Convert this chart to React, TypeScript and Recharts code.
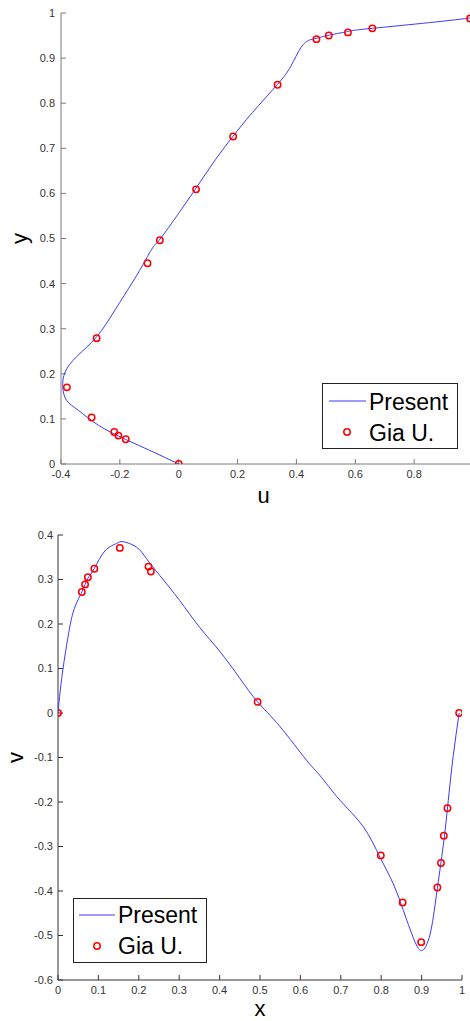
import React from 'react';
import { ScatterChart, Scatter, XAxis, YAxis, Legend } from 'recharts';

// tick labels
const uTicks = [-0.4, -0.2, 0, 0.2, 0.4, 0.6, 0.8, 1];
const yTicks = [0, 0.1, 0.2, 0.3, 0.4, 0.5, 0.6, 0.7, 0.8, 0.9, 1];
const xTicks = [0, 0.1, 0.2, 0.3, 0.4, 0.5, 0.6, 0.7, 0.8, 0.9, 1];
const vTicks = [-0.6, -0.5, -0.4, -0.3, -0.2, -0.1, 0, 0.1, 0.2, 0.3, 0.4];

// present solution: u along the vertical centreline
const presentUy = [
	0, 0.028, 0.055, 0.086, 0.119, 0.141, 0.171, 0.204, 0.238, 0.282, 0.342,
	0.401, 0.438, 0.479, 0.499, 0.556, 0.61, 0.675, 0.727, 0.779, 0.842, 0.882,
	0.923, 0.94, 0.944, 0.951, 0.959, 0.966, 0.989, 1,
];
const presentU = [
	0, -0.091, -0.182, -0.273, -0.341, -0.381, -0.394, -0.386, -0.347, -0.279,
	-0.216, -0.159, -0.125, -0.089, -0.063, 0, 0.057, 0.125, 0.185, 0.25, 0.336,
	0.381, 0.415, 0.444, 0.469, 0.512, 0.575, 0.658, 0.99, 1,
];

// Gia U. reference points for u
const ghiaUy = [
	0, 0.055, 0.063, 0.071, 0.103, 0.17, 0.279, 0.445, 0.496, 0.609, 0.726,
	0.841, 0.942, 0.95, 0.957, 0.966, 0.988,
];
const ghiaU = [
	0, -0.18, -0.205, -0.219, -0.296, -0.38, -0.279, -0.106, -0.064, 0.059,
	0.185, 0.336, 0.468, 0.51, 0.575, 0.658, 0.99,
];

// present solution: v along the horizontal centreline
const presentVx = [
	0, 0.004, 0.012, 0.025, 0.037, 0.05, 0.059, 0.067, 0.074, 0.09, 0.116, 0.145,
	0.161, 0.194, 0.219, 0.252, 0.301, 0.351, 0.4, 0.45, 0.494, 0.549, 0.615,
	0.648, 0.698, 0.756, 0.797, 0.83, 0.855, 0.879, 0.9, 0.921, 0.937, 0.954,
	0.966, 0.978, 0.993,
];
const presentV = [
	0, 0.037, 0.097, 0.172, 0.225, 0.255, 0.272, 0.289, 0.303, 0.325, 0.364,
	0.381, 0.385, 0.373, 0.347, 0.309, 0.253, 0.192, 0.139, 0.078, 0.025, -0.03,
	-0.106, -0.14, -0.196, -0.256, -0.324, -0.384, -0.444, -0.504, -0.534,
	-0.497, -0.407, -0.295, -0.197, -0.098, 0,
];

// Gia U. reference points for v
const ghiaVx = [
	0, 0.059, 0.067, 0.074, 0.09, 0.153, 0.224, 0.23, 0.494, 0.799, 0.853, 0.899,
	0.939, 0.948, 0.955, 0.964, 0.993,
];
const ghiaV = [
	0, 0.272, 0.289, 0.305, 0.324, 0.371, 0.329, 0.318, 0.025, -0.32, -0.426,
	-0.515, -0.392, -0.337, -0.276, -0.214, 0,
];

const zip = (xs: number[], ys: number[]) => xs.map((x, i) => ({ x, y: ys[i] }));

const FONT = '"Liberation Sans", Arial, Helvetica, sans-serif';
const BLUE = '#3a3aff';
const RED = '#ff0000';
const tickStyle = { fontSize: 11, fill: '#333', fontFamily: FONT };
const fmt = (v: number) => String(v);

const Ring = (props: any) => (
	<circle cx={props.cx} cy={props.cy} r={3.2} fill="none" stroke={RED} strokeWidth={1.5} />
);
const NoDot = () => <g />;

type BoxProps = { lineX: [number, number]; lineY: number; textX: number; base1: number; base2: number; ringX: number; ringY: number; w: number; h: number };

const LegendBox = ({ lineX, lineY, textX, base1, base2, ringX, ringY, w, h }: BoxProps) => (
	<svg width={w} height={h} style={{ display: 'block' }}>
		<rect x={0.5} y={0.5} width={w - 1} height={h - 1} fill="#fff" stroke="#222" />
		<line x1={lineX[0]} x2={lineX[1]} y1={lineY} y2={lineY} stroke={BLUE} strokeWidth={1} />
		<text x={textX} y={base1} fontSize={23} fontFamily={FONT} fill="#000">Present</text>
		<circle cx={ringX} cy={ringY} r={3.2} fill="none" stroke={RED} strokeWidth={1.5} />
		<text x={textX} y={base2} fontSize={23} fontFamily={FONT} fill="#000">Gia U.</text>
	</svg>
);

const xLabel = (text: string, dx: number, dy: number) => (p: any) => (
	<text
		x={p.viewBox.x + p.viewBox.width / 2 + dx}
		y={p.viewBox.y + dy}
		textAnchor="middle"
		fontSize={22}
		fontFamily={FONT}
		fill="#000"
	>
		{text}
	</text>
);

const yLabel = (text: string, bx: number) => (p: any) => {
	const cy = p.viewBox.y + p.viewBox.height / 2;
	return (
		<text
			x={bx}
			y={cy}
			transform={`rotate(-90, ${bx}, ${cy})`}
			textAnchor="middle"
			fontSize={22}
			fontFamily={FONT}
			fill="#000"
		>
			{text}
		</text>
	);
};

const App: React.FC = () => {
	const topAxis = '#7a7a7a';
	const botAxis = '#333';
	return (
		<div
			style={{
				position: 'absolute',
				left: 0,
				top: 0,
				width: 470,
				height: 1021,
				overflow: 'hidden',
				background: '#fff',
				fontFamily: FONT,
			}}
		>
			{/* u profile */}
			<div style={{ position: 'absolute', left: 0, top: 0 }}>
				<ScatterChart width={480} height={521} margin={{ top: 13, right: 7, bottom: 0, left: 0 }}>
					<XAxis
						type="number"
						dataKey="x"
						domain={[-0.4, 1]}
						ticks={uTicks}
						interval={0}
						allowDataOverflow
						height={57}
						tickSize={-5}
						tickMargin={11}
						stroke={topAxis}
						tick={tickStyle}
						tickFormatter={fmt}
						label={{ content: xLabel('u', -3.5, 39) }}
					/>
					<XAxis
						xAxisId="top"
						orientation="top"
						type="number"
						domain={[-0.4, 1]}
						ticks={uTicks}
						interval={0}
						height={0}
						tick={false}
						tickSize={-5}
						stroke={topAxis}
					/>
					<YAxis
						type="number"
						dataKey="y"
						domain={[0, 1]}
						ticks={yTicks}
						interval={0}
						allowDataOverflow
						width={61}
						tickSize={-5}
						tickMargin={11}
						stroke={topAxis}
						tick={tickStyle}
						tickFormatter={fmt}
						label={{ content: yLabel('y', 27) }}
					/>
					<YAxis
						yAxisId="right"
						orientation="right"
						type="number"
						domain={[0, 1]}
						ticks={yTicks}
						interval={0}
						width={0}
						tick={false}
						tickSize={-5}
						stroke={topAxis}
					/>
					<Scatter
						name="Present"
						data={zip(presentU, presentUy)}
						shape={NoDot}
						line={{ stroke: BLUE, strokeWidth: 1 }}
						lineJointType="natural"
						isAnimationActive={false}
					/>
					<Scatter name="Gia U." data={zip(ghiaU, ghiaUy)} shape={Ring} isAnimationActive={false} />
					<Legend
						layout="vertical"
						align="center"
						verticalAlign="middle"
						wrapperStyle={{ left: 322, top: 383, width: 136, height: 66 }}
						content={() => (
							<LegendBox w={136} h={66} lineX={[7, 44]} lineY={18} textX={47} base1={27} base2={58} ringX={25} ringY={49} />
						)}
					/>
				</ScatterChart>
			</div>

			{/* v profile */}
			<div style={{ position: 'absolute', left: 0, top: 510 }}>
				<ScatterChart width={470} height={511} margin={{ top: 25, right: 8, bottom: 0, left: 0 }}>
					<XAxis
						type="number"
						dataKey="x"
						domain={[0, 1]}
						ticks={xTicks}
						interval={0}
						allowDataOverflow
						height={41}
						tickSize={-5}
						tickMargin={11}
						stroke={botAxis}
						tick={tickStyle}
						tickFormatter={fmt}
						label={{ content: xLabel('x', 0, 36) }}
					/>
					<XAxis
						xAxisId="top"
						orientation="top"
						type="number"
						domain={[0, 1]}
						ticks={xTicks}
						interval={0}
						height={0}
						tick={false}
						tickSize={-5}
						stroke={botAxis}
					/>
					<YAxis
						type="number"
						dataKey="y"
						domain={[-0.6, 0.4]}
						ticks={vTicks}
						interval={0}
						allowDataOverflow
						width={58}
						tickSize={-5}
						tickMargin={10}
						stroke={botAxis}
						tick={tickStyle}
						tickFormatter={fmt}
						label={{ content: yLabel('v', 23) }}
					/>
					<YAxis
						yAxisId="right"
						orientation="right"
						type="number"
						domain={[-0.6, 0.4]}
						ticks={vTicks}
						interval={0}
						width={0}
						tick={false}
						tickSize={-5}
						stroke={botAxis}
					/>
					<Scatter
						name="Present"
						data={zip(presentVx, presentV)}
						shape={NoDot}
						line={{ stroke: BLUE, strokeWidth: 1 }}
						lineJointType="natural"
						isAnimationActive={false}
					/>
					<Scatter name="Gia U." data={zip(ghiaVx, ghiaV)} shape={Ring} isAnimationActive={false} />
					<Legend
						layout="vertical"
						align="center"
						verticalAlign="middle"
						wrapperStyle={{ left: 73, top: 388, width: 134, height: 65 }}
						content={() => (
							<LegendBox w={134} h={65} lineX={[6, 42]} lineY={17} textX={45} base1={25} base2={56} ringX={24} ringY={48} />
						)}
					/>
				</ScatterChart>
			</div>
		</div>
	);
};

export default App;
